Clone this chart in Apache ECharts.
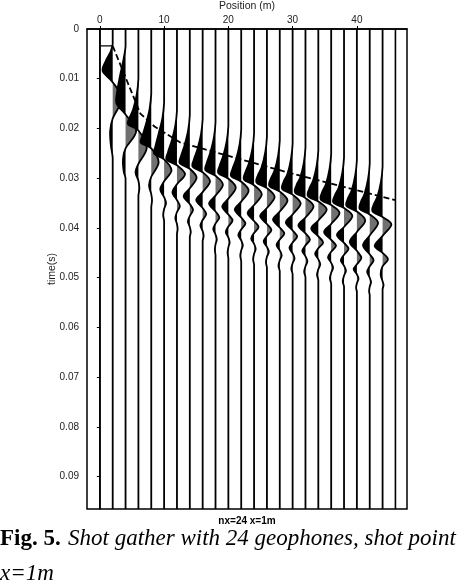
<!DOCTYPE html>
<html>
<head>
<meta charset="utf-8">
<script src="https://cdn.jsdelivr.net/npm/echarts@6/dist/echarts.min.js"></script>
<style>
html,body{margin:0;padding:0;background:#fff;}
#chart{width:459px;height:582px;}
</style>
</head>
<body>
<div id="chart"></div>
<script>
// Geophone positions (m)
const positions = [0,2,4,6,8,10,12,14,16,18,20,22,24,26,28,30,32,34,36,38,40,42,44,46];
const xTickValues = [0,10,20,30,40];
const timeTickValues = [0,0.01,0.02,0.03,0.04,0.05,0.06,0.07,0.08,0.09];

// First-arrival pick line (dashed), position (m) and time (s)
const pickX = [0, 2, 6.3, 8.5, 12.5, 30, 46];
const pickT = [0.0034, 0.0034, 0.0170, 0.0196, 0.0228, 0.0291, 0.0344];

// Wiggle key points per trace: [time (s), deflection (m)]
const trace00 = [];
const trace02 = [[0.0030,0],[0.0045,-0.3],[0.0065,-1.1],[0.0085,-1.55],[0.0107,0],[0.0140,1.4],[0.0180,0],[0.0205,-0.4],[0.0232,-0.3],[0.0259,0]];
const trace04 = [[0.0035,0],[0.0060,-0.3],[0.0097,-0.9],[0.0125,-1.3],[0.0150,-1.4],[0.0172,0],[0.0205,1.65],[0.0240,0],[0.0262,-0.4],[0.0285,-0.3],[0.0300,0]];
const trace06 = [[0.0100,0],[0.0131,-0.25],[0.0161,-0.8],[0.0178,-1.35],[0.0192,-1.6],[0.0204,0],[0.0238,1.3],[0.0271,0],[0.0288,-0.45],[0.0305,0],[0.0320,0.15],[0.0335,0]];
const trace08 = [[0.0130,0],[0.0160,-0.25],[0.0190,-0.8],[0.0214,-1.35],[0.0229,-1.6],[0.0240,0],[0.0268,1.15],[0.0297,0],[0.0314,-0.35],[0.0332,0],[0.0345,0.12],[0.0358,0]];
const trace10 = [[0.0148,0],[0.0178,-0.25],[0.0208,-0.8],[0.0236,-1.35],[0.0251,-1.55],[0.0262,0],[0.0284,1.15],[0.0306,0],[0.0322,-0.6],[0.0338,0],[0.0350,0.3],[0.0362,0],[0.0374,-0.15],[0.0386,0]];
const trace12 = [[0.0164,0],[0.0194,-0.25],[0.0224,-0.8],[0.0248,-1.4],[0.0263,-1.6],[0.0274,0],[0.0292,1.25],[0.0312,0],[0.0328,-0.7],[0.0344,0],[0.0356,0.45],[0.0368,0],[0.0380,-0.25],[0.0392,0],[0.0402,0.1],[0.0412,0]];
const trace14 = [[0.0173,0],[0.0203,-0.25],[0.0233,-0.8],[0.0255,-1.35],[0.0270,-1.55],[0.0281,0],[0.0299,1.05],[0.0320,0],[0.0336,-0.95],[0.0352,0],[0.0364,0.5],[0.0376,0],[0.0387,-0.3],[0.0398,0],[0.0408,0.15],[0.0418,0]];
const trace16 = [[0.0181,0],[0.0211,-0.25],[0.0241,-0.8],[0.0262,-1.35],[0.0277,-1.55],[0.0288,0],[0.0306,1.15],[0.0328,0],[0.0344,-1.0],[0.0360,0],[0.0372,0.55],[0.0384,0],[0.0395,-0.35],[0.0406,0],[0.0416,0.15],[0.0426,0]];
const trace18 = [[0.0188,0],[0.0218,-0.25],[0.0248,-0.8],[0.0269,-1.35],[0.0284,-1.55],[0.0295,0],[0.0313,1.15],[0.0335,0],[0.0351,-1.0],[0.0367,0],[0.0379,0.6],[0.0391,0],[0.0402,-0.35],[0.0413,0],[0.0423,0.2],[0.0433,0],[0.0444,-0.1],[0.0455,0]];
const trace20 = [[0.0195,0],[0.0225,-0.25],[0.0255,-0.8],[0.0275,-1.35],[0.0290,-1.55],[0.0301,0],[0.0319,1.15],[0.0341,0],[0.0357,-0.95],[0.0373,0],[0.0385,0.65],[0.0397,0],[0.0408,-0.4],[0.0419,0],[0.0429,0.2],[0.0439,0],[0.0450,-0.12],[0.0461,0]];
const trace22 = [[0.0202,0],[0.0232,-0.25],[0.0262,-0.8],[0.0281,-1.35],[0.0296,-1.55],[0.0307,0],[0.0325,1.15],[0.0347,0],[0.0363,-1.0],[0.0379,0],[0.0391,0.65],[0.0403,0],[0.0414,-0.45],[0.0425,0],[0.0435,0.25],[0.0445,0],[0.0456,-0.15],[0.0467,0]];
const trace24 = [[0.0210,0],[0.0240,-0.25],[0.0270,-0.8],[0.0288,-1.35],[0.0303,-1.55],[0.0314,0],[0.0332,1.2],[0.0354,0],[0.0370,-1.0],[0.0386,0],[0.0398,0.7],[0.0410,0],[0.0421,-0.45],[0.0432,0],[0.0442,0.25],[0.0452,0],[0.0463,-0.15],[0.0474,0]];
const trace26 = [[0.0217,0],[0.0247,-0.25],[0.0277,-0.8],[0.0294,-1.4],[0.0309,-1.6],[0.0320,0],[0.0338,1.2],[0.0360,0],[0.0376,-1.05],[0.0392,0],[0.0404,0.7],[0.0416,0],[0.0427,-0.5],[0.0438,0],[0.0448,0.3],[0.0458,0],[0.0469,-0.15],[0.0480,0]];
const trace28 = [[0.0224,0],[0.0254,-0.25],[0.0284,-0.8],[0.0301,-1.4],[0.0316,-1.6],[0.0327,0],[0.0345,1.2],[0.0367,0],[0.0383,-1.05],[0.0399,0],[0.0411,0.7],[0.0423,0],[0.0434,-0.5],[0.0445,0],[0.0455,0.3],[0.0465,0],[0.0476,-0.2],[0.0487,0]];
const trace30 = [[0.0231,0],[0.0261,-0.25],[0.0291,-0.8],[0.0307,-1.4],[0.0322,-1.6],[0.0333,0],[0.0351,1.25],[0.0373,0],[0.0389,-1.05],[0.0405,0],[0.0417,0.7],[0.0429,0],[0.0440,-0.5],[0.0451,0],[0.0461,0.3],[0.0471,0],[0.0482,-0.2],[0.0493,0]];
const trace32 = [[0.0238,0],[0.0268,-0.25],[0.0298,-0.8],[0.0314,-1.4],[0.0329,-1.6],[0.0340,0],[0.0357,1.25],[0.0379,0],[0.0395,-1.1],[0.0411,0],[0.0423,0.7],[0.0435,0],[0.0446,-0.5],[0.0457,0],[0.0467,0.3],[0.0477,0],[0.0488,-0.2],[0.0499,0]];
const trace34 = [[0.0244,0],[0.0274,-0.25],[0.0304,-0.8],[0.0321,-1.4],[0.0336,-1.6],[0.0347,0],[0.0363,1.3],[0.0385,0],[0.0401,-1.1],[0.0417,0],[0.0429,0.75],[0.0441,0],[0.0452,-0.5],[0.0463,0],[0.0473,0.3],[0.0483,0],[0.0494,-0.2],[0.0505,0]];
const trace36 = [[0.0251,0],[0.0281,-0.25],[0.0311,-0.8],[0.0328,-1.4],[0.0343,-1.6],[0.0354,0],[0.0370,1.3],[0.0392,0],[0.0408,-1.1],[0.0424,0],[0.0436,0.75],[0.0448,0],[0.0459,-0.5],[0.0470,0],[0.0480,0.3],[0.0490,0],[0.0501,-0.2],[0.0512,0]];
const trace38 = [[0.0258,0],[0.0288,-0.25],[0.0318,-0.8],[0.0334,-1.4],[0.0349,-1.65],[0.0360,0],[0.0376,1.3],[0.0398,0],[0.0414,-1.1],[0.0430,0],[0.0442,0.7],[0.0454,0],[0.0465,-0.5],[0.0476,0],[0.0486,0.3],[0.0496,0],[0.0507,-0.2],[0.0518,0]];
const trace40 = [[0.0264,0],[0.0294,-0.25],[0.0324,-0.8],[0.0341,-1.4],[0.0356,-1.6],[0.0367,0],[0.0385,1.3],[0.0408,0],[0.0428,-1.1],[0.0446,0],[0.0460,0.7],[0.0473,0],[0.0483,-0.5],[0.0493,0],[0.0502,0.25],[0.0511,0],[0.0520,-0.12],[0.0528,0]];
const trace42 = [[0.0271,0],[0.0301,-0.25],[0.0331,-0.8],[0.0347,-1.35],[0.0362,-1.55],[0.0373,0],[0.0390,1.3],[0.0415,0],[0.0435,-1.05],[0.0453,0],[0.0465,0.6],[0.0477,0],[0.0488,-0.4],[0.0500,0],[0.0509,0.2],[0.0518,0],[0.0527,-0.1],[0.0535,0]];
const trace44 = [[0.0277,0],[0.0307,-0.25],[0.0337,-0.8],[0.0352,-1.35],[0.0367,-1.55],[0.0378,0],[0.0393,1.37],[0.0416,0],[0.0436,-1.23],[0.0450,0],[0.0463,0.84],[0.0477,0],[0.0493,-0.3],[0.0507,0],[0.0515,0.15],[0.0523,0]];
const trace46 = [];

const traces = [trace00,trace02,trace04,trace06,trace08,trace10,trace12,trace14,trace16,trace18,trace20,trace22,
                trace24,trace26,trace28,trace30,trace32,trace34,trace36,trace38,trace40,trace42,trace44,trace46];

const T_MAX = 0.0965;
const X_MIN = -2, X_MAX = 47.8;
const NEG_FILL = '#000000';
const POS_FILL = '#707070';

function renderTrace(params, api) {
  const x0 = api.value(0);
  const idx = api.value(2);
  const pts = traces[idx];
  const top = api.coord([x0, 0]);
  const bot = api.coord([x0, T_MAX]);
  const lineStyle = {fill: 'none', stroke: '#000', lineWidth: 1.8};
  if (!pts.length) {
    return {type: 'line', shape: {x1: top[0], y1: top[1], x2: bot[0], y2: bot[1]}, style: {stroke: '#000', lineWidth: 1.6}};
  }
  const P = pts.map(p => api.coord([x0 + p[1], p[0]]));
  const n = P.length;
  function seg(k) {
    const p1 = P[k], p2 = P[k + 1];
    const p0 = k > 0 ? P[k - 1] : [p1[0], 2 * p1[1] - p2[1]];
    const p3 = k + 2 < n ? P[k + 2] : [p2[0], 2 * p2[1] - p1[1]];
    const c1x = p1[0] + (p2[0] - p0[0]) / 6, c1y = p1[1] + (p2[1] - p0[1]) / 6;
    const c2x = p2[0] - (p3[0] - p1[0]) / 6, c2y = p2[1] - (p3[1] - p1[1]) / 6;
    return 'C' + c1x + ',' + c1y + ' ' + c2x + ',' + c2y + ' ' + p2[0] + ',' + p2[1];
  }
  const children = [];
  const zeros = [];
  pts.forEach((p, k) => { if (p[1] === 0) zeros.push(k); });
  for (let z = 0; z + 1 < zeros.length; z++) {
    const a = zeros[z], b = zeros[z + 1];
    if (b - a < 2) continue;
    let d = 'M' + P[a][0] + ',' + P[a][1];
    for (let k = a; k < b; k++) d += seg(k);
    d += 'Z';
    const neg = pts[a + 1][1] < 0;
    children.push({type: 'path', shape: {pathData: d}, style: {fill: neg ? NEG_FILL : POS_FILL, stroke: null}});
  }
  let d = 'M' + top[0] + ',' + top[1] + 'L' + P[0][0] + ',' + P[0][1];
  for (let k = 0; k < n - 1; k++) d += seg(k);
  d += 'L' + bot[0] + ',' + bot[1];
  children.push({type: 'path', shape: {pathData: d}, style: lineStyle});
  return {type: 'group', children: children};
}

const axisFont = '"Liberation Sans", Arial, Helvetica, sans-serif';
const chart = echarts.init(document.getElementById('chart'), null, {renderer: 'canvas'});
chart.setOption({
  animation: false,
  backgroundColor: '#fff',
  grid: {left: 87, top: 29, width: 320, height: 480, show: true, borderColor: '#000', borderWidth: 1.5,
         backgroundColor: 'transparent', containLabel: false, outerBoundsMode: 'none'},
  xAxis: {
    type: 'value', position: 'top', min: X_MIN, max: X_MAX,
    name: 'Position (m)', nameLocation: 'middle', nameGap: 17, nameMoveOverlap: false,
    nameTextStyle: {fontFamily: axisFont, fontSize: 10.5, color: '#222'},
    axisLine: {show: true, lineStyle: {color: '#000', width: 1.5}},
    axisTick: {show: true, length: 3, customValues: xTickValues, lineStyle: {color: '#000'}},
    axisLabel: {customValues: xTickValues, fontFamily: axisFont, fontSize: 10, color: '#222', margin: 4},
    splitLine: {show: false}
  },
  yAxis: {
    type: 'value', inverse: true, min: 0, max: T_MAX,
    name: 'time(s)', nameLocation: 'middle', nameGap: 29, nameRotate: 90, nameMoveOverlap: false,
    nameTextStyle: {fontFamily: axisFont, fontSize: 10.5, color: '#222'},
    axisLine: {show: true, lineStyle: {color: '#000', width: 1.5}},
    axisTick: {show: true, length: 3, customValues: timeTickValues, lineStyle: {color: '#000'}},
    axisLabel: {customValues: timeTickValues, fontFamily: axisFont, fontSize: 10, color: '#222', margin: 8,
      formatter: v => (v === 0 ? '0' : v.toFixed(2))},
    splitLine: {show: false}
  },
  series: [
    {
      type: 'custom', renderItem: renderTrace, clip: false, silent: true,
      data: positions.map((x, i) => [x, 0, i]),
      encode: {x: 0, y: 1}, z: 2
    },
    {
      type: 'line', symbol: 'none', silent: true, z: 5,
      data: pickX.slice(1).map((x, i) => [x, pickT[i + 1]]),
      lineStyle: {color: '#000', width: 1.8, type: [6, 3]}
    },
    {
      type: 'line', symbol: 'none', silent: true, z: 5,
      data: pickX.slice(0, 2).map((x, i) => [x, pickT[i]]),
      lineStyle: {color: '#000', width: 1.4}
    }
  ],
  graphic: [
    {type: 'text', x: 247, y: 521, style: {text: 'nx=24 x=1m', font: 'bold 10px ' + axisFont, fill: '#000', align: 'center', verticalAlign: 'middle'}},
    {type: 'text', x: 0, y: 539, style: {text: 'Fig. 5.', font: 'bold 23px "Liberation Serif", "Times New Roman", serif', fill: '#000', align: 'left', verticalAlign: 'middle'}},
    {type: 'text', x: 68, y: 539, style: {text: 'Shot gather with 24 geophones, shot point', font: 'italic 23px "Liberation Serif", "Times New Roman", serif', fill: '#000', align: 'left', verticalAlign: 'middle'}},
    {type: 'text', x: 0, y: 574, style: {text: 'x=1m', font: 'italic 23px "Liberation Serif", "Times New Roman", serif', fill: '#000', align: 'left', verticalAlign: 'middle'}}
  ]
});
</script>
</body>
</html>
